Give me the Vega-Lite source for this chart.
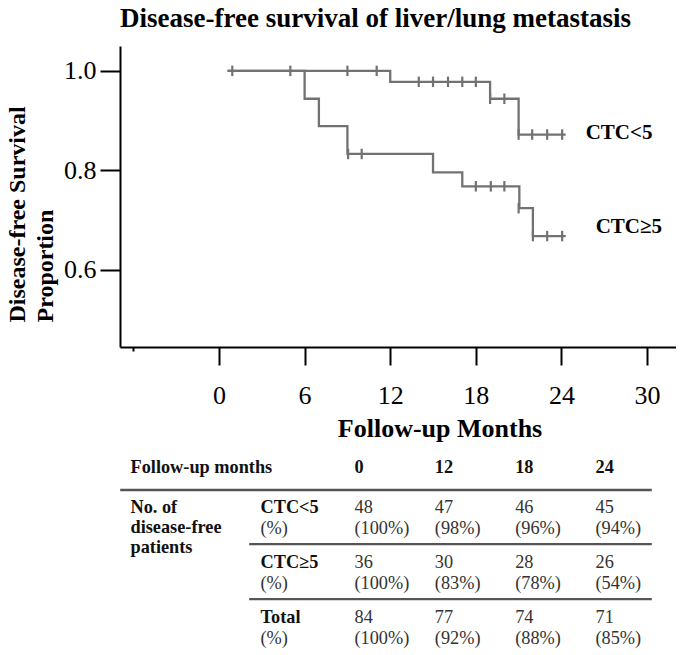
{
  "$schema": "https://vega.github.io/schema/vega-lite/v6.json",
  "padding": {"left": 5, "top": 5, "right": 0, "bottom": 0},
  "spacing": 0,
  "background": "white",
  "config": {"view": {"stroke": null}, "font": "Liberation Serif", "text": {"font": "Liberation Serif"}},
  "vconcat": [
    {
      "width": 556,
      "height": 301,
      "title": {
        "text": "Disease-free survival of liver/lung metastasis",
        "anchor": "start",
        "frame": "group",
        "font": "Liberation Serif",
        "fontSize": 27,
        "fontWeight": "bold",
        "color": "black",
        "offset": 13
      },
      "data": {
        "values": [
          {"group": "CTC<5", "kind": "step", "month": 0.6, "surv": 1.0},
          {"group": "CTC<5", "kind": "step", "month": 12, "surv": 0.978},
          {"group": "CTC<5", "kind": "step", "month": 19, "surv": 0.944},
          {"group": "CTC<5", "kind": "step", "month": 21, "surv": 0.872},
          {"group": "CTC<5", "kind": "step", "month": 24.3, "surv": 0.872},
          {"group": "CTC<5", "kind": "censor", "month": 0.93, "surv": 1.0},
          {"group": "CTC<5", "kind": "censor", "month": 5.0, "surv": 1.0},
          {"group": "CTC<5", "kind": "censor", "month": 9.0, "surv": 1.0},
          {"group": "CTC<5", "kind": "censor", "month": 11.05, "surv": 1.0},
          {"group": "CTC<5", "kind": "censor", "month": 14.0, "surv": 0.978},
          {"group": "CTC<5", "kind": "censor", "month": 15.0, "surv": 0.978},
          {"group": "CTC<5", "kind": "censor", "month": 16.05, "surv": 0.978},
          {"group": "CTC<5", "kind": "censor", "month": 17.05, "surv": 0.978},
          {"group": "CTC<5", "kind": "censor", "month": 18.0, "surv": 0.978},
          {"group": "CTC<5", "kind": "censor", "month": 19.0, "surv": 0.944},
          {"group": "CTC<5", "kind": "censor", "month": 20.0, "surv": 0.944},
          {"group": "CTC<5", "kind": "censor", "month": 21.0, "surv": 0.872},
          {"group": "CTC<5", "kind": "censor", "month": 21.95, "surv": 0.872},
          {"group": "CTC<5", "kind": "censor", "month": 23.0, "surv": 0.872},
          {"group": "CTC<5", "kind": "censor", "month": 24.05, "surv": 0.872},
          {"group": "CTC≥5", "kind": "step", "month": 0.6, "surv": 1.0},
          {"group": "CTC≥5", "kind": "step", "month": 6, "surv": 0.944},
          {"group": "CTC≥5", "kind": "step", "month": 7, "surv": 0.889},
          {"group": "CTC≥5", "kind": "step", "month": 9, "surv": 0.833},
          {"group": "CTC≥5", "kind": "step", "month": 15, "surv": 0.796},
          {"group": "CTC≥5", "kind": "step", "month": 17.05, "surv": 0.768},
          {"group": "CTC≥5", "kind": "step", "month": 21.05, "surv": 0.724},
          {"group": "CTC≥5", "kind": "step", "month": 22, "surv": 0.668},
          {"group": "CTC≥5", "kind": "step", "month": 24.3, "surv": 0.668},
          {"group": "CTC≥5", "kind": "censor", "month": 9.05, "surv": 0.833},
          {"group": "CTC≥5", "kind": "censor", "month": 10.0, "surv": 0.833},
          {"group": "CTC≥5", "kind": "censor", "month": 18.0, "surv": 0.768},
          {"group": "CTC≥5", "kind": "censor", "month": 19.05, "surv": 0.768},
          {"group": "CTC≥5", "kind": "censor", "month": 20.0, "surv": 0.768},
          {"group": "CTC≥5", "kind": "censor", "month": 21.0, "surv": 0.724},
          {"group": "CTC≥5", "kind": "censor", "month": 22.0, "surv": 0.668},
          {"group": "CTC≥5", "kind": "censor", "month": 23.0, "surv": 0.668},
          {"group": "CTC≥5", "kind": "censor", "month": 24.05, "surv": 0.668},
          {"group": "CTC<5", "kind": "label", "month": 25.7, "surv": 0.876},
          {"group": "CTC≥5", "kind": "label", "month": 26.4, "surv": 0.686}
        ]
      },
      "encoding": {
        "x": {
          "field": "month",
          "type": "quantitative",
          "scale": {"domain": [-6.94, 32.03], "nice": false, "zero": false},
          "axis": {
            "values": [-6, 0, 6, 12, 18, 24, 30],
            "labelExpr": "datum.value == -6 ? '' : datum.label",
            "tickSize": {"condition": {"test": "datum.value == -6", "value": 4}, "value": 18},
            "tickWidth": 2,
            "tickColor": "black",
            "domainColor": "black",
            "domainWidth": 2,
            "grid": false,
            "labelFont": "Liberation Serif",
            "labelFontSize": 26,
            "labelColor": "black",
            "labelPadding": 17,
            "labelFlush": false,
            "labelOverlap": false,
            "title": "Follow-up Months",
            "titleFont": "Liberation Serif",
            "titleFontSize": 26,
            "titleFontWeight": "bold",
            "titleColor": "black",
            "titleX": 319.5,
            "titleY": 89,
            "titleAlign": "center",
            "titleBaseline": "alphabetic"
          }
        },
        "y": {
          "field": "surv",
          "type": "quantitative",
          "scale": {"domain": [0.445, 1.05], "nice": false, "zero": false},
          "axis": {
            "values": [0.6, 0.8, 1.0],
            "format": ".1f",
            "tickSize": 20,
            "tickWidth": 2,
            "tickColor": "black",
            "domainColor": "black",
            "domainWidth": 2,
            "grid": false,
            "labelFont": "Liberation Serif",
            "labelFontSize": 26,
            "labelColor": "black",
            "labelPadding": 4,
            "labelFlush": false,
            "title": ["Disease-free Survival", "Proportion"],
            "titleFont": "Liberation Serif",
            "titleFontSize": 24,
            "titleFontWeight": "bold",
            "titleColor": "black",
            "titleAngle": 270,
            "titleX": -95.5,
            "titleY": 276,
            "titleAlign": "left",
            "titleBaseline": "alphabetic",
            "titleLineHeight": 28
          }
        }
      },
      "layer": [
        {
          "transform": [{"filter": "datum.kind == 'step'"}],
          "mark": {"type": "line", "interpolate": "step-after", "color": "#727272", "strokeWidth": 2.3},
          "encoding": {"detail": {"field": "group"}}
        },
        {
          "transform": [{"filter": "datum.kind == 'censor'"}],
          "mark": {"type": "point", "shape": "M0,-1L0,1", "size": 110, "strokeWidth": 2.2, "color": "#727272", "filled": false, "opacity": 1}
        },
        {
          "transform": [{"filter": "datum.kind == 'label'"}],
          "mark": {"type": "text", "align": "left", "baseline": "middle", "fontSize": 21, "fontWeight": "bold", "color": "black", "font": "Liberation Serif"},
          "encoding": {"text": {"field": "group"}}
        }
      ]
    },
    {
      "width": 556,
      "height": 214,
      "data": {
        "values": [
          {"part": "head", "col": "m0", "text": "0"},
          {"part": "head", "col": "m12", "text": "12"},
          {"part": "head", "col": "m18", "text": "18"},
          {"part": "head", "col": "m24", "text": "24"},
          {"part": "headlabel", "hcol": "label", "text": "Follow-up months"},
          {"part": "rowname", "hcol": "label", "row": "r1", "text": "No. of\ndisease-free\npatients"},
          {"part": "groupname", "hcol": "group", "row": "r1", "text": "CTC<5", "sub": "(%)"},
          {"part": "groupname", "hcol": "group", "row": "r2", "text": "CTC≥5", "sub": "(%)"},
          {"part": "groupname", "hcol": "group", "row": "r3", "text": "Total", "sub": "(%)"},
          {"part": "cell", "row": "r1", "col": "m0", "n": "48", "pct": "(100%)"},
          {"part": "cell", "row": "r1", "col": "m12", "n": "47", "pct": "(98%)"},
          {"part": "cell", "row": "r1", "col": "m18", "n": "46", "pct": "(96%)"},
          {"part": "cell", "row": "r1", "col": "m24", "n": "45", "pct": "(94%)"},
          {"part": "cell", "row": "r2", "col": "m0", "n": "36", "pct": "(100%)"},
          {"part": "cell", "row": "r2", "col": "m12", "n": "30", "pct": "(83%)"},
          {"part": "cell", "row": "r2", "col": "m18", "n": "28", "pct": "(78%)"},
          {"part": "cell", "row": "r2", "col": "m24", "n": "26", "pct": "(54%)"},
          {"part": "cell", "row": "r3", "col": "m0", "n": "84", "pct": "(100%)"},
          {"part": "cell", "row": "r3", "col": "m12", "n": "77", "pct": "(92%)"},
          {"part": "cell", "row": "r3", "col": "m18", "n": "74", "pct": "(88%)"},
          {"part": "cell", "row": "r3", "col": "m24", "n": "71", "pct": "(85%)"},
          {"part": "rule_top", "hcol": "label", "row": "r1"},
          {"part": "rule_sep", "hcol": "group", "row": "r2"},
          {"part": "rule_sep", "hcol": "group", "row": "r3"}
        ]
      },
      "resolve": {"scale": {"x": "independent"}},
      "layer": [
        {
          "transform": [{"filter": "datum.part == 'head'"}],
          "mark": {"type": "text", "font": "Liberation Serif", "align": "left", "baseline": "alphabetic", "fontSize": 18.3, "fontWeight": "bold", "color": "#111", "yOffset": -40.6},
          "encoding": {
            "x": {"field": "col", "type": "nominal", "scale": {"type": "point", "domain": ["m0", "m12", "m18", "m24"], "range": [234.5, 475.5], "padding": 0}, "axis": null},
            "y": {"datum": "r1", "type": "nominal", "scale": {"type": "point", "domain": ["r1", "r2", "r3"], "range": [72.3, 182.3], "padding": 0}, "axis": null},
            "text": {"field": "text"}
          }
        },
        {
          "transform": [{"filter": "datum.part == 'headlabel'"}],
          "mark": {"type": "text", "font": "Liberation Serif", "align": "left", "baseline": "alphabetic", "fontSize": 18.3, "fontWeight": "bold", "color": "#111", "yOffset": -40.6},
          "encoding": {
            "x": {"field": "hcol", "type": "nominal", "scale": {"type": "point", "domain": ["label", "group"], "range": [10.5, 140.5], "padding": 0}, "axis": null},
            "y": {"datum": "r1", "type": "nominal", "scale": {"type": "point", "domain": ["r1", "r2", "r3"], "range": [72.3, 182.3], "padding": 0}, "axis": null},
            "text": {"field": "text"}
          }
        },
        {
          "transform": [{"filter": "datum.part == 'rowname'"}],
          "mark": {"type": "text", "font": "Liberation Serif", "align": "left", "baseline": "alphabetic", "fontSize": 18.3, "fontWeight": "bold", "color": "#111", "lineBreak": "\n", "lineHeight": 20},
          "encoding": {
            "x": {"field": "hcol", "type": "nominal", "scale": {"type": "point", "domain": ["label", "group"], "range": [10.5, 140.5], "padding": 0}, "axis": null},
            "y": {"field": "row", "type": "nominal", "scale": {"type": "point", "domain": ["r1", "r2", "r3"], "range": [72.3, 182.3], "padding": 0}, "axis": null},
            "text": {"field": "text"}
          }
        },
        {
          "transform": [{"filter": "datum.part == 'groupname'"}],
          "mark": {"type": "text", "font": "Liberation Serif", "align": "left", "baseline": "alphabetic", "fontSize": 18.3, "fontWeight": "bold", "color": "#111"},
          "encoding": {
            "x": {"field": "hcol", "type": "nominal", "scale": {"type": "point", "domain": ["label", "group"], "range": [10.5, 140.5], "padding": 0}, "axis": null},
            "y": {"field": "row", "type": "nominal", "scale": {"type": "point", "domain": ["r1", "r2", "r3"], "range": [72.3, 182.3], "padding": 0}, "axis": null},
            "text": {"field": "text"}
          }
        },
        {
          "transform": [{"filter": "datum.part == 'groupname'"}],
          "mark": {"type": "text", "font": "Liberation Serif", "align": "left", "baseline": "alphabetic", "fontSize": 18.3, "color": "#333", "yOffset": 21},
          "encoding": {
            "x": {"field": "hcol", "type": "nominal", "scale": {"type": "point", "domain": ["label", "group"], "range": [10.5, 140.5], "padding": 0}, "axis": null},
            "y": {"field": "row", "type": "nominal", "scale": {"type": "point", "domain": ["r1", "r2", "r3"], "range": [72.3, 182.3], "padding": 0}, "axis": null},
            "text": {"field": "sub"}
          }
        },
        {
          "transform": [{"filter": "datum.part == 'cell'"}],
          "mark": {"type": "text", "font": "Liberation Serif", "align": "left", "baseline": "alphabetic", "fontSize": 18.3, "color": "#333"},
          "encoding": {
            "x": {"field": "col", "type": "nominal", "scale": {"type": "point", "domain": ["m0", "m12", "m18", "m24"], "range": [234.5, 475.5], "padding": 0}, "axis": null},
            "y": {"field": "row", "type": "nominal", "scale": {"type": "point", "domain": ["r1", "r2", "r3"], "range": [72.3, 182.3], "padding": 0}, "axis": null},
            "text": {"field": "n"}
          }
        },
        {
          "transform": [{"filter": "datum.part == 'cell'"}],
          "mark": {"type": "text", "font": "Liberation Serif", "align": "left", "baseline": "alphabetic", "fontSize": 18.3, "color": "#333", "yOffset": 21},
          "encoding": {
            "x": {"field": "col", "type": "nominal", "scale": {"type": "point", "domain": ["m0", "m12", "m18", "m24"], "range": [234.5, 475.5], "padding": 0}, "axis": null},
            "y": {"field": "row", "type": "nominal", "scale": {"type": "point", "domain": ["r1", "r2", "r3"], "range": [72.3, 182.3], "padding": 0}, "axis": null},
            "text": {"field": "pct"}
          }
        },
        {
          "transform": [{"filter": "datum.part == 'rule_top'"}],
          "mark": {"type": "rule", "color": "#555", "strokeWidth": 2.6, "xOffset": -10.3, "x2Offset": 391.3, "yOffset": -23.3, "y2Offset": -23.3},
          "encoding": {
            "x": {"field": "hcol", "type": "nominal", "scale": {"type": "point", "domain": ["label", "group"], "range": [10.5, 140.5], "padding": 0}, "axis": null},
            "x2": {"datum": "group"},
            "y": {"field": "row", "type": "nominal", "scale": {"type": "point", "domain": ["r1", "r2", "r3"], "range": [72.3, 182.3], "padding": 0}, "axis": null}
          }
        },
        {
          "transform": [{"filter": "datum.part == 'rule_sep'"}],
          "mark": {"type": "rule", "color": "#555", "strokeWidth": 2.2, "xOffset": -11.3, "x2Offset": 391.3, "yOffset": -24.2, "y2Offset": -24.2},
          "encoding": {
            "x": {"field": "hcol", "type": "nominal", "scale": {"type": "point", "domain": ["label", "group"], "range": [10.5, 140.5], "padding": 0}, "axis": null},
            "x2": {"datum": "group"},
            "y": {"field": "row", "type": "nominal", "scale": {"type": "point", "domain": ["r1", "r2", "r3"], "range": [72.3, 182.3], "padding": 0}, "axis": null}
          }
        }
      ]
    }
  ]
}
